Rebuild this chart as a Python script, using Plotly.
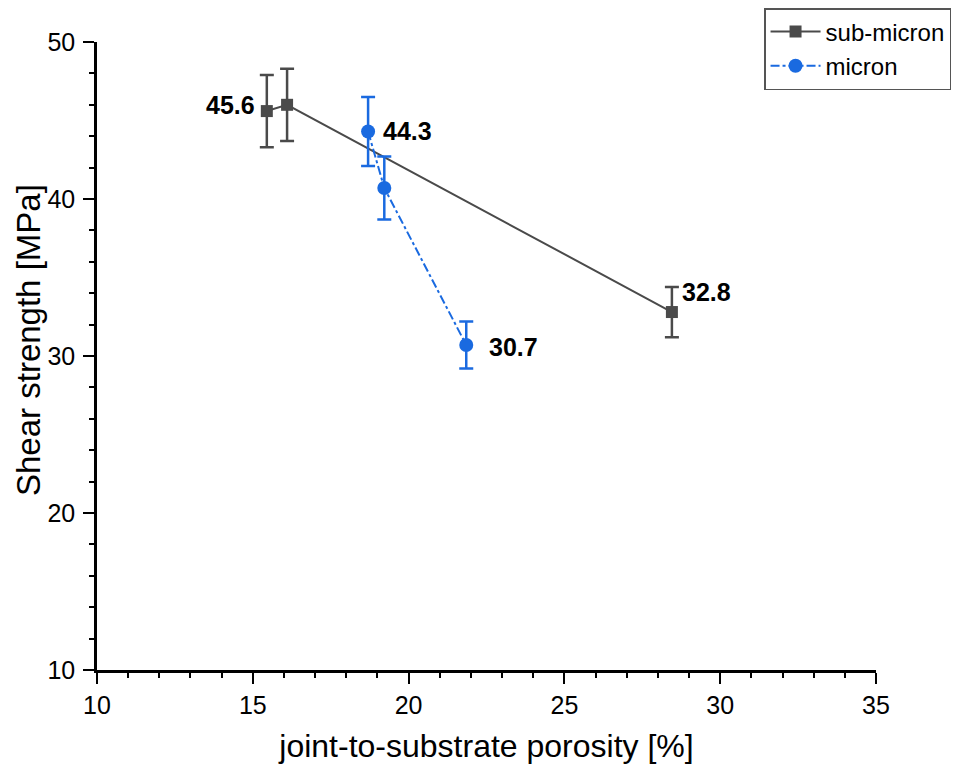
import plotly.graph_objects as go

# sub-micron series
sub_x = [15.45, 16.1, 28.45]
sub_y = [45.6, 46.0, 32.8]
sub_err = [2.3, 2.3, 1.6]

# micron series
mic_x = [18.7, 19.22, 21.85]
mic_y = [44.3, 40.7, 30.7]
mic_err = [2.2, 2.0, 1.5]

# value labels (text, x, y, anchor)
labels = [
    ("45.6", 15.15, 46.0, "right"),
    ("44.3", 19.1, 44.3, "left"),
    ("30.7", 22.5, 30.6, "left"),
    ("32.8", 28.7, 34.1, "left"),
]

gray = "#4a4a4a"
blue = "#1a6ae0"

# page has an 8px body margin, so the figure is 16px smaller than the window
W, H = 954, 756
x0, x1 = 89, 868   # plot area left/right in figure px
y0, y1 = 34, 662   # plot area top/bottom in figure px

fig = go.Figure()

fig.add_trace(go.Scatter(
    x=sub_x, y=sub_y, name="sub-micron", mode="lines+markers",
    line=dict(color=gray, width=2),
    marker=dict(symbol="square", size=12, color=gray),
    error_y=dict(type="data", array=sub_err, color=gray, thickness=2.5, width=7),
))
fig.add_trace(go.Scatter(
    x=mic_x, y=mic_y, name="micron", mode="lines+markers",
    line=dict(color=blue, width=2, dash="dashdot"),
    marker=dict(symbol="circle", size=14, color=blue),
    error_y=dict(type="data", array=mic_err, color=blue, thickness=2.5, width=7),
))

for txt, x, y, anc in labels:
    fig.add_annotation(x=x, y=y, text="<b>" + txt + "</b>", showarrow=False,
                       xanchor=anc, yanchor="middle",
                       font=dict(size=25, color="black", family="Arial"))

# y axis title (standoff is ignored without automargin, so place it by hand)
fig.add_annotation(xref="paper", yref="paper", x=21 / W, y=1 - 332 / H,
                   text="Shear strength [MPa]", textangle=-90, showarrow=False,
                   xanchor="center", yanchor="middle",
                   font=dict(size=33, color="black", family="Arial"))

axis_style = dict(
    showline=True, linecolor="black", linewidth=2.5, mirror=False,
    ticks="outside", ticklen=11, tickwidth=2, tickcolor="black",
    showgrid=False, zeroline=False, automargin=False,
    tickfont=dict(size=25, color="black", family="Arial"),
    minor=dict(ticks="outside", ticklen=5, tickwidth=2, tickcolor="black"),
)

fig.update_xaxes(range=[10, 35], dtick=5, domain=[x0 / W, x1 / W],
                 ticklabelstandoff=0,
                 title=dict(text="joint-to-substrate porosity [%]", standoff=18,
                            font=dict(size=32, color="black", family="Arial")),
                 **axis_style)
fig.update_yaxes(range=[10, 50], dtick=10, domain=[1 - y1 / H, 1 - y0 / H],
                 ticklabelstandoff=3,
                 **axis_style)

fig.update_layout(
    width=W, height=H,
    margin=dict(l=0, r=0, t=0, b=0),
    plot_bgcolor="white", paper_bgcolor="white",
    font=dict(family="Arial", color="black"),
    legend=dict(x=0.7925, y=1.0, xanchor="left", yanchor="top",
                bordercolor="#555555", borderwidth=1.5,
                font=dict(size=24, color="black"),
                tracegroupgap=0, itemwidth=50),
)

fig.write_html("out.html")
